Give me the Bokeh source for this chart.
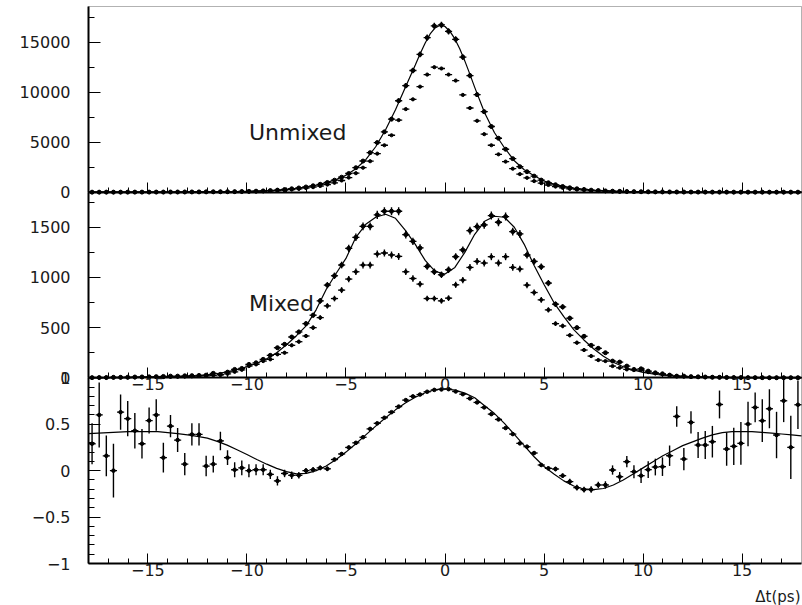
import numpy as np
from bokeh.plotting import figure
from bokeh.models import (Range1d, LinearAxis, FixedTicker, CustomJSTickFormatter, Label,
                          BoxAnnotation)
from bokeh.embed import file_html
from bokeh.resources import INLINE

# ---- histogram binning: 100 bins of Delta t over -18..18 ps ----
bin_edges = np.linspace(-18.0, 18.0, 101)
dt = 0.5 * (bin_edges[:-1] + bin_edges[1:])

# ---- top panel: unmixed events (all / selected) ----
unmixed_all = [
    2, 2, 3, 3, 4, 5, 6, 7, 8, 10,
    12, 14, 16, 19, 22, 26, 30, 35, 40, 46,
    54, 65, 80, 100, 125, 160, 205, 265, 340, 420,
    520, 640, 790, 970, 1200, 1500, 1870, 2450, 3120, 3960,
    4970, 6040, 7320, 9160, 10670, 12190, 13800, 15480, 16650, 16750,
    16110, 15310, 13530, 11680, 9770, 8060, 6580, 5400, 4300, 3360,
    2550, 2050, 1610, 1210, 940, 740, 570, 440, 340, 270,
    200, 160, 125, 100, 80, 64, 52, 42, 34, 28,
    23, 19, 16, 13, 11, 9, 8, 7, 6, 5,
    4, 4, 3, 3, 3, 2, 2, 2, 2, 1]
# the error bars of this series, as read, are about 2.5 times sqrt(N)
unmixed_all_err_scale = 2.5
unmixed_sel = [
    1, 1, 2, 2, 3, 4, 4, 5, 6, 8,
    9, 11, 12, 14, 17, 20, 23, 27, 31, 36,
    42, 50, 62, 78, 97, 125, 160, 205, 265, 330,
    410, 500, 620, 760, 940, 1170, 1460, 1900, 2450, 3100,
    3860, 4700, 5700, 7220, 8320, 9300, 10570, 11780, 12520, 12390,
    11780, 11180, 9740, 8430, 7150, 5810, 4700, 3790, 3060, 2350,
    1810, 1440, 1110, 900, 720, 560, 430, 330, 260, 205,
    160, 125, 98, 78, 62, 50, 40, 32, 26, 21,
    17, 14, 12, 10, 8, 7, 6, 5, 4, 4,
    3, 3, 2, 2, 2, 2, 1, 1, 1, 1]

# ---- middle panel: mixed events (all / selected) ----
mixed_all = [
    2, 3, 3, 5, 5, 6, 8, 9, 10, 12,
    14, 17, 17, 20, 22, 24, 27, 45, 34, 57,
    84, 94, 134, 150, 184, 224, 300, 334, 407, 457,
    540, 624, 767, 924, 1017, 1124, 1290, 1400, 1510, 1510,
    1624, 1660, 1660, 1660, 1427, 1360, 1294, 1110, 1057, 1027,
    1077, 1207, 1274, 1467, 1507, 1524, 1617, 1550, 1607, 1457,
    1434, 1224, 1160, 1107, 944, 734, 707, 594, 500, 414,
    324, 294, 250, 167, 157, 117, 84, 90, 67, 50,
    40, 27, 17, 17, 12, 10, 8, 6, 5, 4,
    3, 3, 2, 2, 2, 1, 1, 1, 1, 1]
mixed_sel = [
    1, 1, 2, 2, 3, 3, 4, 5, 6, 7,
    8, 10, 12, 13, 15, 18, 20, 25, 30, 40,
    60, 80, 117, 134, 167, 184, 234, 250, 324, 360,
    417, 500, 600, 717, 790, 874, 984, 1057, 1124, 1124,
    1234, 1244, 1224, 1210, 1057, 990, 934, 790, 790, 767,
    794, 927, 974, 1100, 1160, 1144, 1207, 1144, 1207, 1100,
    1084, 924, 850, 777, 677, 540, 517, 424, 350, 277,
    217, 177, 167, 117, 100, 84, 77, 77, 57, 44,
    34, 25, 18, 14, 10, 8, 6, 5, 4, 3,
    2, 2, 2, 1, 1, 1, 1, 1, 1, 1]

# ---- bottom panel: asymmetry ----
asym = [
    0.29, 0.60, 0.16, 0.00, 0.63, 0.56, 0.43, 0.29, 0.54, 0.60,
    0.14, 0.48, 0.33, 0.07, 0.39, 0.39, 0.05, 0.07, 0.32, 0.14,
    0.01, 0.03, 0.00, 0.01, 0.01, -0.04, -0.11, -0.03, -0.05, -0.05,
    0.00, 0.01, 0.03, 0.02, 0.12, 0.18, 0.25, 0.30, 0.36, 0.45,
    0.51, 0.57, 0.63, 0.69, 0.76, 0.80, 0.82, 0.85, 0.87, 0.875,
    0.878, 0.853, 0.824, 0.778, 0.735, 0.681, 0.609, 0.552, 0.459, 0.394,
    0.294, 0.258, 0.190, 0.061, 0.025, 0.018, -0.054, -0.118, -0.183, -0.204,
    -0.204, -0.154, -0.154, 0.007, -0.065, 0.097, -0.011, -0.054, 0.011, 0.039,
    0.043, 0.161, 0.584, 0.125, 0.520, 0.276, 0.276, 0.312, 0.713, 0.233,
    0.262, 0.294, 0.502, 0.681, 0.538, 0.667, 0.384, 0.753, 0.251, 0.710]
asym_err = [
    0.22, 0.35, 0.22, 0.29, 0.19, 0.19, 0.19, 0.16, 0.14, 0.17,
    0.16, 0.12, 0.13, 0.12, 0.12, 0.12, 0.11, 0.09, 0.10, 0.08,
    0.08, 0.08, 0.07, 0.06, 0.06, 0.05, 0.05, 0.04, 0.04, 0.035,
    0.03, 0.03, 0.025, 0.025, 0.02, 0.02, 0.02, 0.02, 0.015, 0.015,
    0.015, 0.015, 0.012, 0.012, 0.012, 0.01, 0.01, 0.01, 0.01, 0.01,
    0.01, 0.01, 0.01, 0.01, 0.012, 0.012, 0.012, 0.015, 0.015, 0.015,
    0.015, 0.02, 0.02, 0.02, 0.02, 0.025, 0.025, 0.03, 0.03, 0.03,
    0.035, 0.035, 0.04, 0.05, 0.05, 0.06, 0.07, 0.08, 0.09, 0.09,
    0.10, 0.11, 0.11, 0.12, 0.12, 0.14, 0.15, 0.17, 0.15, 0.18,
    0.20, 0.23, 0.24, 0.16, 0.23, 0.21, 0.25, 0.23, 0.34, 0.26]

fit_t_top = [-18, -17.5, -17, -16.5, -16, -15.5, -15, -14.5, -14, -13.5, -13,
             -12.5, -12, -11.5, -11, -10.5, -10, -9.5, -9, -8.5, -8, -7.5, -7,
             -6.5, -6, -5.5, -5, -4.5, -4, -3.5, -3, -2.5, -2,
             -1.5, -1.25, -1, -0.75, -0.5, -0.25, 0, 0.25, 0.5, 0.75, 1, 1.25,
             1.5, 2, 2.5, 3, 3.5, 4, 4.5, 5, 5.5, 6, 6.5, 7, 7.5, 8, 8.5, 9,
             9.5, 10, 10.5, 11, 11.5, 12, 12.5, 13, 13.5, 14, 14.5, 15, 15.5,
             16, 16.5, 17, 17.5, 18]
fit_unmixed = [1, 2, 2, 3, 4, 5, 6, 8, 10, 13, 17,
               22, 28, 37, 48, 62, 82, 110, 150, 205, 285, 390, 530,
               720, 950, 1260, 1700, 2350, 3250, 4550, 6250, 8250, 10500,
               12750, 13900, 14950, 15850, 16450, 16720, 16600, 16100, 15350, 14350, 13150, 11850,
               10500, 7950, 5950, 4450, 3150, 2250, 1650, 1120, 800, 580, 410, 295, 215, 155, 115, 85,
               63, 48, 37, 29, 23, 18, 15, 12, 10, 8, 6, 5, 4,
               4, 3, 3, 2, 2]

fit_t = [-18, -17.5, -17, -16.5, -16, -15.5, -15, -14.5, -14, -13.5, -13, -12.5,
         -12, -11.5, -11, -10.5, -10, -9.5, -9, -8.5, -8, -7.5, -7, -6.5, -6,
         -5.5, -5, -4.5, -4, -3.5, -3, -2.5, -2, -1.5, -1, -0.5, 0,
         0.5, 1, 1.5, 2, 2.5, 3, 3.5, 4, 4.5, 5, 5.5, 6, 6.5, 7, 7.5, 8, 8.5,
         9, 9.5, 10, 10.5, 11, 11.5, 12, 12.5, 13, 13.5, 14, 14.5, 15, 15.5,
         16, 16.5, 17, 17.5, 18]
fit_mixed = [1, 1, 2, 2, 3, 4, 5, 6, 8, 11, 15, 21,
             30, 43, 60, 82, 110, 145, 190, 250, 330, 420, 520, 680, 880,
             1040, 1190, 1400, 1530, 1600, 1630, 1590, 1470, 1330, 1170, 1060, 1035,
             1100, 1250, 1430, 1560, 1610, 1600, 1500, 1330, 1120, 930, 750, 610, 480, 380, 290, 215, 155,
             110, 78, 55, 38, 26, 18, 13, 9, 7, 5, 4, 3, 3, 2,
             2, 1, 1, 1, 1]
fit_asym = [0.40, 0.405, 0.41, 0.415, 0.42, 0.42, 0.42, 0.42, 0.41, 0.40, 0.385, 0.37,
            0.35, 0.315, 0.275, 0.225, 0.175, 0.12, 0.07, 0.025, -0.01, -0.035, -0.03, 0.0, 0.05,
            0.12, 0.20, 0.29, 0.385, 0.48, 0.57, 0.655, 0.73, 0.79, 0.84, 0.872, 0.882,
            0.868, 0.835, 0.785, 0.70, 0.615, 0.51, 0.39, 0.27, 0.15, 0.045, -0.035, -0.11, -0.165, -0.197, -0.205, -0.192, -0.155,
            -0.10, -0.036, 0.03, 0.095, 0.16, 0.215, 0.27, 0.31, 0.35, 0.385, 0.41, 0.42, 0.422, 0.42,
            0.413, 0.404, 0.395, 0.385, 0.375]

# ---- tick definitions ----
x_major = [-15, -10, -5, 0, 5, 10, 15]
x_minor = [v for v in range(-17, 18) if v % 5 != 0]
top_major = [0, 5000, 10000, 15000]
top_minor = [2500, 7500, 12500, 17500]
mid_major = [0, 500, 1000, 1500]
mid_minor = [250, 750, 1250, 1750]
bot_major = [-1, -0.5, 0, 0.5, 1]
bot_minor = [round(-1 + 0.1 * k, 1) for k in range(21) if k % 5 != 0]

# ---- layout: three stacked panels sharing one frame ----
W, H = 802, 605
LEFT, RIGHT, TOP, BOTTOM = 88, 801, 6, 563      # pixel box of the three panels
TOP_MAX = 18600.0                                # top panel upper limit
MID_MAX = 1850.0                                 # middle panel upper limit
# default y: bottom panel -1..1, middle panel 1..3, top panel 3..5
sx = (RIGHT - LEFT) / 36.0
sy = (BOTTOM - TOP) / 6.0
x0, x1 = -18 - LEFT / sx, 18 + (W - RIGHT) / sx
y0, y1 = -1 - (H - BOTTOM) / sy, 5 + TOP / sy

FONT = "DejaVu Sans"
TXT = "#1a1a1a"

p = figure(width=W, height=H, x_range=Range1d(x0, x1), y_range=Range1d(y0, y1),
           x_axis_type=None, y_axis_type=None,
           output_backend="svg", toolbar_location=None,
           min_border_left=0, min_border_right=0, min_border_top=0, min_border_bottom=0)
p.extra_y_ranges = {"top": Range1d((y0 - 3) * TOP_MAX / 2, (y1 - 3) * TOP_MAX / 2),
                    "mid": Range1d((y0 - 1) * MID_MAX / 2, (y1 - 1) * MID_MAX / 2)}
p.outline_line_color = None
p.background_fill_color = "white"
p.border_fill_color = "white"

fmt = CustomJSTickFormatter(code="return String(tick).replace('-', '\u2212');")
blank = CustomJSTickFormatter(code="return '';")


def style(ax, major_in, minor_in, standoff, size="16px"):
    ax.axis_line_color = "black"
    ax.axis_line_width = 2
    ax.major_tick_line_color = "black"
    ax.minor_tick_line_color = "black"
    ax.major_tick_line_width = 1
    ax.minor_tick_line_width = 1
    ax.major_tick_in = major_in
    ax.major_tick_out = 0
    ax.minor_tick_in = minor_in
    ax.minor_tick_out = 0
    ax.major_label_standoff = standoff
    ax.major_label_text_font = FONT
    ax.major_label_text_font_size = size
    ax.major_label_text_color = TXT


# panel box (top and right border)
p.add_layout(BoxAnnotation(left=-18, right=18, bottom=-1, top=5, fill_color=None,
                           line_color="black", line_width=1, level="underlay"))

# y axes, all at the left edge of the panels
for rname, maj, mnr, bnds in (("top", top_major, top_minor, (0, TOP_MAX)),
                              ("mid", mid_major, mid_minor, (0, MID_MAX)),
                              ("default", bot_major, bot_minor, (-1, 1))):
    ax = LinearAxis(y_range_name=rname, fixed_location=-18, bounds=bnds,
                    ticker=FixedTicker(ticks=maj, minor_ticks=mnr), formatter=fmt)
    style(ax, 12, 6, 18)
    p.add_layout(ax, "left")

# x axes: bottom of top panel (no labels), bottom of middle panel, bottom of plot
for loc, f in ((3, blank), (1, fmt), (-1, fmt)):
    ax = LinearAxis(fixed_location=loc, bounds=(-18, 18),
                    ticker=FixedTicker(ticks=x_major, minor_ticks=x_minor), formatter=f)
    style(ax, 10, 5, 0)
    p.add_layout(ax, "below")

lo = bin_edges[:-1]
hi = bin_edges[1:]


def hist_points(vals, rname, size, err_scale=1.0):
    v = np.asarray(vals, dtype=float)
    e = err_scale * np.sqrt(v)
    p.segment(lo, v, hi, v, y_range_name=rname, line_color="black", line_width=1.3)
    p.segment(dt, v - e, dt, v + e, y_range_name=rname, line_color="black", line_width=1.4)
    p.scatter(dt, v, marker="circle", size=size, fill_color="black", line_color="black",
              y_range_name=rname)


hist_points(unmixed_sel, "top", 3.2)
hist_points(unmixed_all, "top", 4.0, unmixed_all_err_scale)
p.line(fit_t_top, fit_unmixed, y_range_name="top", line_color="black", line_width=1.2)

hist_points(mixed_sel, "mid", 3.2)
hist_points(mixed_all, "mid", 4.0)
p.line(fit_t, fit_mixed, y_range_name="mid", line_color="black", line_width=1.2)

a = np.asarray(asym)
ae = np.asarray(asym_err)
p.segment(lo, a, hi, a, line_color="black", line_width=1.3)
p.segment(dt, a - ae, dt, a + ae, line_color="black", line_width=1.4)
p.scatter(dt, a, marker="circle", size=3.6, fill_color="black", line_color="black")
p.line(fit_t, fit_asym, line_color="black", line_width=1.2)

p.add_layout(Label(x=-9.9, y=6000, y_range_name="top", text="Unmixed",
                   text_font=FONT, text_font_size="22px", text_color=TXT,
                   text_baseline="alphabetic", text_align="left"))
p.add_layout(Label(x=-9.9, y=745, y_range_name="mid", text="Mixed",
                   text_font=FONT, text_font_size="22px", text_color=TXT,
                   text_baseline="alphabetic", text_align="left"))
p.add_layout(Label(x=17.95, y=-1.36, text="\u0394t(ps)",
                   text_font=FONT, text_font_size="15px", text_color=TXT,
                   text_baseline="alphabetic", text_align="right"))

open("out.html", "w").write(file_html(p, INLINE))
